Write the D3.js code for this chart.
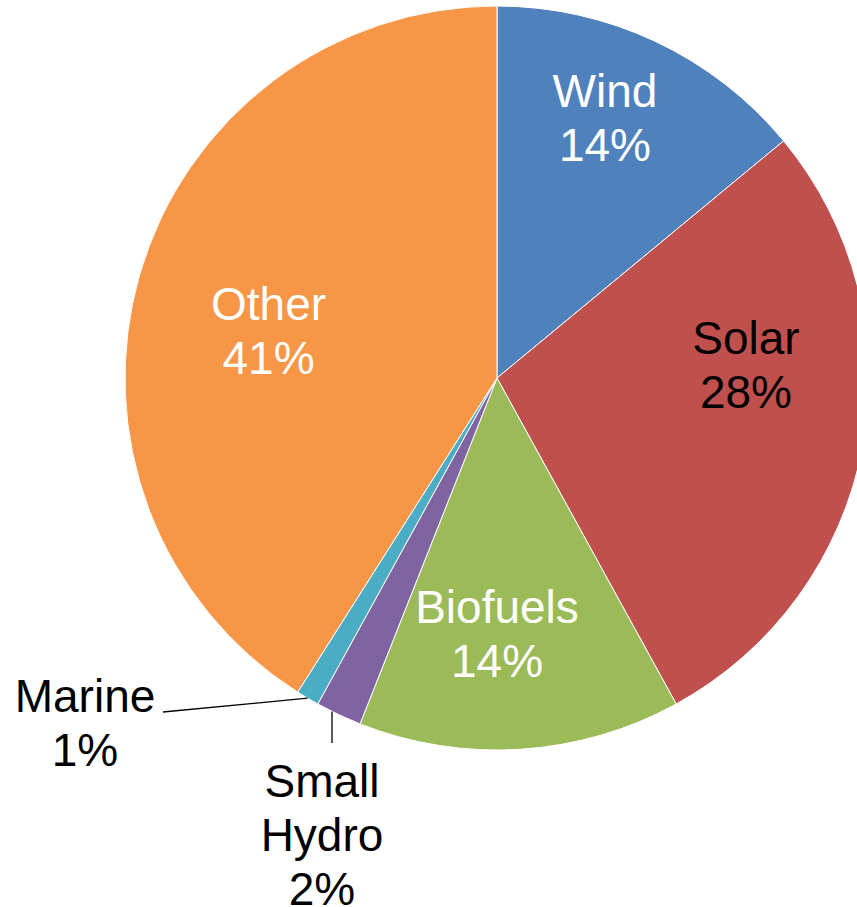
<!DOCTYPE html>
<html>
<head>
<meta charset="utf-8">
<script src="https://cdn.jsdelivr.net/npm/d3@7"></script>
<style>
  html, body { margin: 0; padding: 0; background: #ffffff; }
  svg { display: block; }
  text { font-family: "Liberation Sans", Arial, sans-serif; }
</style>
</head>
<body>
<svg id="chart" width="857" height="907"></svg>
<script>
// Share of renewable energy by technology (%)
const categories = ["Wind", "Solar", "Biofuels", "Small Hydro", "Marine", "Other"];
const values = [14, 28, 14, 2, 1, 41];
const colors = ["#4F81BD", "#C0504D", "#9BBB59", "#8064A2", "#4BACC6", "#F79646"];
const labelColors = ["#ffffff", "#000000", "#ffffff", "#000000", "#000000", "#ffffff"];

// Label placement: offset of the first baseline from the pie centre,
// plus optional leader line (start point offset and position along the slice arc)
const labelLayout = [
  { dx: 108, dy: -271 },
  { dx: 249, dy: -24 },
  { dx: 0, dy: 245 },
  { dx: -175, dy: 419, lines: ["Small", "Hydro"], leader: { x: -165, y: 365, frac: 0.657 } },
  { dx: -412, dy: 334, leader: { x: -334, y: 334, frac: 0.5 } },
  { dx: -228.5, dy: -58 }
];

const width = 857, height = 907;
const cx = 497, cy = 378, radius = 372;
const fontSize = 46, lineStep = 54;

const svg = d3.select("#chart");
const g = svg.append("g").attr("transform", `translate(${cx},${cy})`);

const data = categories.map((c, i) => ({ name: c, value: values[i], i }));

const pie = d3.pie().value(d => d.value).sort(null);
const arcs = pie(data);
const arc = d3.arc().innerRadius(0).outerRadius(radius);

g.selectAll("path.slice")
  .data(arcs)
  .join("path")
  .attr("class", "slice")
  .attr("d", arc)
  .attr("fill", d => colors[d.data.i])
  .attr("stroke", "#ffffff")
  .attr("stroke-width", 1);

// Leader lines for the small slices
arcs.forEach(a => {
  const lay = labelLayout[a.data.i];
  if (!lay.leader) return;
  const ang = a.startAngle + (a.endAngle - a.startAngle) * lay.leader.frac;
  const ex = radius * Math.sin(ang), ey = -radius * Math.cos(ang);
  g.append("line")
    .attr("x1", lay.leader.x).attr("y1", lay.leader.y)
    .attr("x2", ex).attr("y2", ey)
    .attr("stroke", "#000000")
    .attr("stroke-width", 1.3);
});

// Data labels: category name(s) and percentage
arcs.forEach(a => {
  const i = a.data.i;
  const lay = labelLayout[i];
  const lines = (lay.lines || [a.data.name]).concat([a.data.value + "%"]);
  const t = g.append("text")
    .attr("x", lay.dx)
    .attr("y", lay.dy)
    .attr("text-anchor", "middle")
    .attr("font-size", fontSize)
    .attr("fill", labelColors[i]);
  lines.forEach((ln, k) => {
    t.append("tspan")
      .attr("x", lay.dx)
      .attr("y", lay.dy + k * lineStep)
      .text(ln);
  });
});
</script>
</body>
</html>
